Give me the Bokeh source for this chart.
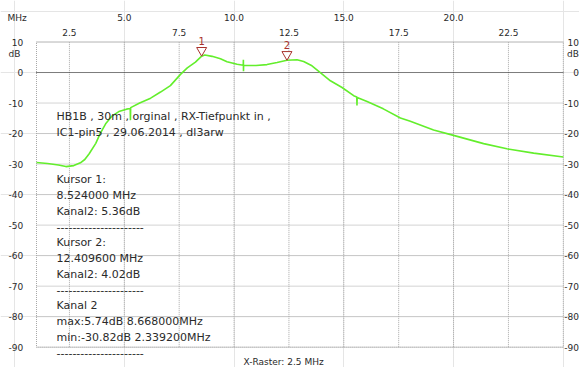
from bokeh.plotting import figure
from bokeh.models import Range1d, ColumnDataSource
from bokeh.core.properties import value
from bokeh.transform import dodge
from bokeh.embed import file_html
from bokeh.resources import INLINE

# Channel 2 sweep: frequency in MHz, level in dB
freq_mhz = [1.0, 1.5, 2.0, 2.3392, 2.7, 3.0, 3.2, 3.4, 3.7, 3.9, 4.15, 4.45, 4.75,
            5.1, 5.27, 5.28, 5.29, 5.7, 6.2, 6.65, 7.1, 7.56, 7.87, 8.24, 8.524,
            8.668, 9.0, 9.38, 9.68, 10.14, 10.42, 10.425, 10.43, 10.435, 11.0, 11.5,
            11.96, 12.4096, 12.87, 13.17, 13.55, 13.93, 14.39, 14.92, 15.45, 15.59,
            15.6, 15.61, 16.06, 16.8, 17.58, 18.03, 19.09, 20.0, 21.37, 22.43,
            23.65, 25.0]
level_db = [-29.5, -29.8, -30.3, -30.82, -30.5, -29.6, -28.5, -26.6, -23.2, -20.0,
            -16.8, -14.2, -12.8, -12.0, -11.8, -15.6, -11.5, -10.0, -8.4, -6.4,
            -4.3, -0.6, 1.5, 3.4, 5.36, 5.74, 5.3, 4.5, 3.5, 2.7, 2.4, 4.2, 0.4, 2.4,
            2.3, 2.6, 3.3, 4.02, 4.2, 3.6, 2.2, 0.0, -2.7, -4.9, -7.6, -8.0, -10.8,
            -8.2, -9.5, -11.9, -14.9, -16.0, -18.8, -20.6, -23.3, -25.0, -26.4,
            -27.7]

# Cursors
cursor_names = ["1", "2"]
cursor_freq = [8.524, 12.4096]
cursor_db = [5.36, 4.02]

# Scale ticks
x_ticks_low = [2.5, 7.5, 12.5, 17.5, 22.5]
x_ticks_high = [5.0, 10.0, 15.0, 20.0]
y_ticks = [10, 0, -10, -20, -30, -40, -50, -60, -70, -80, -90]

x_min, x_max = 1.0, 25.0
y_min, y_max = -90.0, 10.0

info_lines = [
    "HB1B , 30m , orginal , RX-Tiefpunkt in ,",
    "IC1-pin5 , 29.06.2014  ,  dl3arw",
    "",
    "",
    "Kursor 1:",
    "8.524000 MHz",
    "Kanal2: 5.36dB",
    "----------------------",
    "Kursor 2:",
    "12.409600 MHz",
    "Kanal2: 4.02dB",
    "----------------------",
    "Kanal 2",
    "max:5.74dB 8.668000MHz",
    "min:-30.82dB 2.339200MHz",
    "----------------------",
]

# Page geometry: the diagram area inside the 579 x 367 canvas (pixels from top-left)
W, H = 579, 367
AREA_L, AREA_R, AREA_T, AREA_B = 36.0, 562.8, 41.5, 346.7
mhz_per_px = (x_max - x_min) / (AREA_R - AREA_L)
db_per_px = (y_max - y_min) / (AREA_B - AREA_T)


def fx(px):
    """canvas x pixel -> MHz"""
    return x_min + (px - AREA_L) * mhz_per_px


def fy(py):
    """canvas y pixel (from top) -> dB"""
    return y_max - (py - AREA_T) * db_per_px


FONT = value("DejaVu Sans")
TXT = "#2a2a2a"
GREEN = "#63ee2c"
MARK = "#a8322d"
GRID = "#a8a8a8"

# The frame spans the whole canvas, so the scale captions around the diagram
# are drawn in data space like everything else.
p = figure(width=W, height=H, x_range=Range1d(fx(0), fx(W)), y_range=Range1d(fy(H), fy(0)),
           output_backend="svg", toolbar_location=None,
           x_axis_location=None, y_axis_location=None,
           min_border_left=0, min_border_right=0, min_border_top=0, min_border_bottom=0)
p.background_fill_color = "white"
p.border_fill_color = "white"
p.outline_line_color = None

# dotted raster and border of the diagram area
x_grid = x_ticks_low + x_ticks_high
p.segment(x0=x_grid, y0=[y_min] * len(x_grid), x1=x_grid, y1=[y_max] * len(x_grid),
          line_color=GRID, line_dash="1 1", line_width=1)
y_grid = [t for t in y_ticks if t != 0]
p.segment(x0=[x_min] * len(y_grid), y0=y_grid, x1=[x_max] * len(y_grid), y1=y_grid,
          line_color=GRID, line_dash="1 1", line_width=1)
p.quad(left=[x_min], right=[x_max], bottom=[y_min], top=[y_max], fill_color=None,
       line_color=GRID, line_dash="1 1", line_width=1)
p.segment(x0=[x_min], y0=[0], x1=[x_max], y1=[0], line_color="#111111",
          line_dash="1 1", line_width=1)

# sweep curve
p.line(freq_mhz, level_db, line_color=GREEN, line_width=1.6)

# cursor markers: inverted triangle whose tip sits on the curve, number above
marker_size = 10
tip_px = 2.0 / 3.0 * (marker_size / 2.0) * 3 ** 0.5
src = ColumnDataSource(dict(f=cursor_freq, db=cursor_db, name=cursor_names))
p.scatter(x="f", y=dodge("db", tip_px * db_per_px), source=src, marker="inverted_triangle",
          size=marker_size, fill_color="white", line_color=MARK, line_width=1)
p.text(x="f", y="db", text="name", source=src, y_offset=-15, text_align="center",
       text_baseline="middle", text_font=FONT, text_font_size="10px", text_color=MARK)

tick_style = dict(text_font=FONT, text_font_size="9px", text_color=TXT, text_baseline="middle")

# frequency scale on top, two staggered rows
p.text(x=x_ticks_low, y=[fy(31.7)] * len(x_ticks_low), text=["%.1f" % t for t in x_ticks_low],
       text_align="center", **tick_style)
p.text(x=x_ticks_high, y=[fy(17)] * len(x_ticks_high), text=["%.1f" % t for t in x_ticks_high],
       text_align="center", **tick_style)
p.text(x=[fx(7)], y=[fy(17)], text=["MHz"], text_align="left", **tick_style)

# dB scales left and right
p.text(x=[fx(22.7)] * len(y_ticks), y=y_ticks, text=["%d" % t for t in y_ticks],
       text_align="right", **tick_style)
p.text(x=[fx(578.5)] * len(y_ticks), y=y_ticks, text=["%d" % t for t in y_ticks],
       text_align="right", **tick_style)
p.text(x=[fx(14), fx(578.5)], y=[fy(53), fy(53)], text=["dB", "dB"],
       text_align=["center", "right"], **tick_style)

p.text(x=[fx(243)], y=[fy(361)], text=["X-Raster: 2.5 MHz"], text_align="left", **tick_style)

# info block
rows = [(k, s) for k, s in enumerate(info_lines) if s]
p.text(x=[fx(56)] * len(rows), y=[fy(115.8 + 15.8 * k) for k, _ in rows],
       text=[s for _, s in rows], text_align="left", text_baseline="middle",
       text_font=FONT, text_font_size="11px", text_color=TXT)

open("out.html", "w").write(file_html(p, INLINE))
